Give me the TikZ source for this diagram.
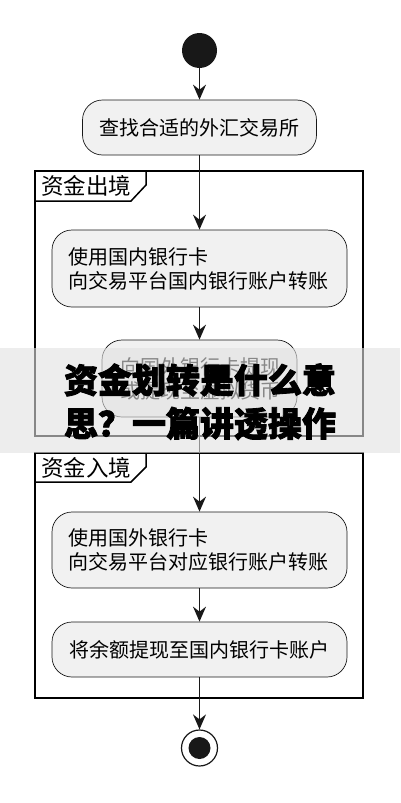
\documentclass[tikz,border=0pt]{standalone}
\usepackage{fontspec}
\setmainfont{Noto Sans CJK SC}
\newfontfamily\bannerfont{Noto Sans CJK SC}[BoldFeatures={FakeBold=2.5}]
\usepackage{tikz}
\usetikzlibrary{arrows.meta, positioning, shapes.geometric}
\definecolor{nodefill}{RGB}{241,241,241}
\definecolor{inkblack}{RGB}{24,24,24}
\definecolor{bandgray}{RGB}{225,225,225}

\begin{document}
\begin{tikzpicture}[x=1pt, y=-1pt,
    action/.style={draw=inkblack, line width=0.7pt, fill=nodefill, rounded corners=20pt,
        inner xsep=16pt, inner ysep=0pt, font=\fontsize{20}{24}\selectfont},
    flow/.style={draw=inkblack, line width=1.6pt, -{Stealth[length=15pt, width=13pt, inset=5pt]}},
    frame/.style={draw=black, line width=2pt},
    tab/.style={draw=black, line width=1.5pt}]
    \useasboundingbox (0,0) rectangle (400,803);

    % Start and first step
    \node[circle, fill=inkblack, minimum size=35pt, inner sep=0pt] (start) at (199.5,50.5) {};
    \node[action, minimum width=234pt, minimum height=55pt, align=center] (find) at (199.5,127.5) {查找合适的外汇交易所};

    % Frames
    \draw[frame] (35,171) rectangle (363,436);
    \draw[tab] (35,201) -- (131,201) -- (146,185) -- (146,171);
    \node[anchor=west, inner sep=0pt, font=\fontsize{22.5}{24}\selectfont] (outlabel) at (41,186) {资金出境};
    \draw[frame] (35,453) rectangle (363,698);
    \draw[tab] (35,482) -- (131,482) -- (146,467) -- (146,453);
    \node[anchor=west, inner sep=0pt, font=\fontsize{22.5}{24}\selectfont] (inlabel) at (41,467.5) {资金入境};

    % Steps
    \node[action, minimum height=77pt, text width=263pt, align=left] (out1) at (199.5,268.5) {使用国内银行卡\\向交易平台国内银行账户转账};
    \node[action, minimum height=77pt, text width=159pt, inner xsep=18pt, align=left] (out2) at (199.5,378.5) {向国外银行卡提现\\或提现至虚拟货币};
    \node[action, minimum height=76pt, text width=263pt, align=left] (in1) at (199.5,550) {使用国外银行卡\\向交易平台对应银行账户转账};
    \node[action, minimum width=295pt, minimum height=55pt, align=center] (in2) at (199.5,649.5) {将余额提现至国内银行卡账户};

    % End
    \node[circle, draw=inkblack, line width=1.2pt, fill=white, minimum size=36pt, inner sep=0pt] (stop) at (199.5,748) {};
    \fill[inkblack] (stop.center) circle (11pt);

    % Connectors
    \draw[flow] (start) -- (find);
    \draw[flow] (find) -- (out1);
    \draw[flow] (out1) -- (out2);
    \draw[flow] (out2) -- (in1);
    \draw[flow] (in1) -- (in2);
    \draw[flow] (in2) -- (stop);

    % Banner
    \fill[bandgray, opacity=0.6] (0,348) rectangle (400,453);
    \node[font=\bannerfont\bfseries\fontsize{34}{40}\selectfont, inner sep=0pt] (title1) at (200,380) {资金划转是什么意};
    \node[font=\bannerfont\bfseries\fontsize{34}{40}\selectfont, inner sep=0pt] (title2) at (200,423.5) {思？一篇讲透操作};
\end{tikzpicture}
\end{document}
